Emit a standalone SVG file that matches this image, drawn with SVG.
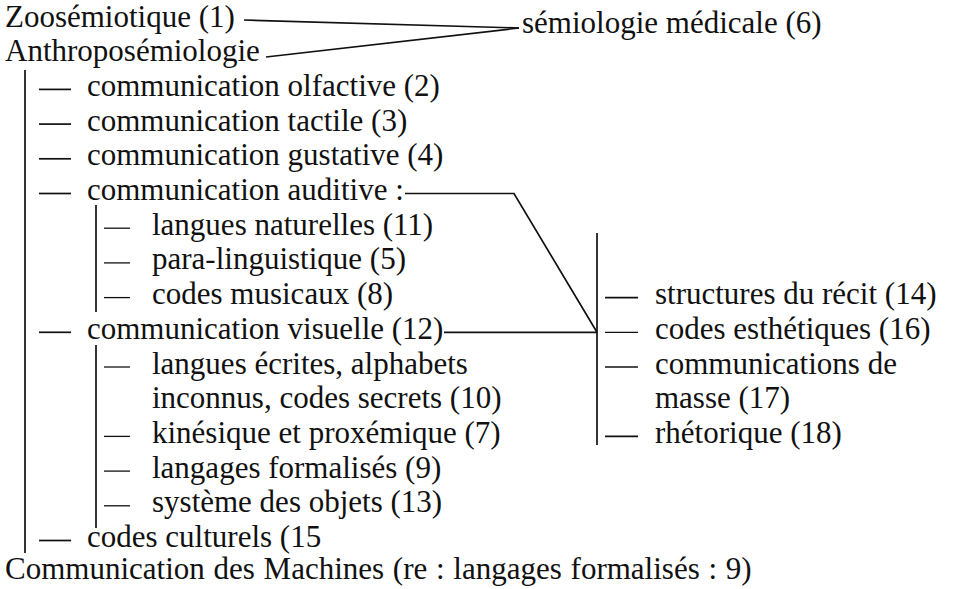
<svg xmlns="http://www.w3.org/2000/svg" width="957" height="589" viewBox="0 0 957 589" font-family="'Liberation Serif', 'Times New Roman', serif">
<style>
text { font-family: "Liberation Serif", "Times New Roman", serif; font-size: 31px; fill: #111; }
.ln { stroke: #111; stroke-width: 1.7; fill: none; }
.d { stroke: #111; stroke-width: 1.7; }
.sd { stroke: #111; stroke-width: 1.3; }
</style>
<rect width="957" height="589" fill="#fff"/>
<g id="connectors">
  <path class="ln" d="M244,20 L519,28"/>
  <path class="ln" d="M266,57 L519,28"/>
  <path class="ln" d="M405,193.5 L514,193.5 L597,332.3"/>
  <path class="ln" d="M444,332.3 L597,332.3"/>
  <path class="ln" d="M25,70 V553"/>
  <path class="ln" d="M96,205 V312"/>
  <path class="ln" d="M96,345 V528"/>
  <path class="ln" d="M597,233 V445"/>
</g>
<g id="n-zoo"><text x="5" y="27">Zoosémiotique (1)</text></g>
<g id="n-semio"><text x="522" y="33">sémiologie médicale (6)</text></g>
<g id="n-anthropo"><text x="5" y="61.2">Anthroposémiologie</text></g>
<g id="n-olfactive"><line class="d" x1="39" y1="89.4" x2="71" y2="89.4"/><text x="87" y="95.9">communication olfactive (2)</text></g>
<g id="n-tactile"><line class="d" x1="39" y1="124.1" x2="71" y2="124.1"/><text x="87" y="130.6">communication tactile (3)</text></g>
<g id="n-gustative"><line class="d" x1="39" y1="158.8" x2="71" y2="158.8"/><text x="87" y="165.3">communication gustative (4)</text></g>
<g id="n-auditive"><line class="d" x1="39" y1="193.5" x2="71" y2="193.5"/><text x="87" y="200">communication auditive :</text></g>
<g id="n-naturelles"><line class="sd" x1="104" y1="228.2" x2="130" y2="228.2"/><text x="152" y="234.7">langues naturelles (11)</text></g>
<g id="n-para"><line class="sd" x1="104" y1="262.9" x2="130" y2="262.9"/><text x="152" y="269.4">para-linguistique (5)</text></g>
<g id="n-musicaux"><line class="sd" x1="104" y1="297.6" x2="130" y2="297.6"/><text x="152" y="304.1">codes musicaux (8)</text></g>
<g id="n-visuelle"><line class="d" x1="39" y1="332.3" x2="71" y2="332.3"/><text x="87" y="338.8">communication visuelle (12)</text></g>
<g id="n-ecrites"><line class="sd" x1="104" y1="367" x2="130" y2="367"/><text x="152" y="373.5">langues écrites, alphabets</text><text x="152" y="408.2">inconnus, codes secrets (10)</text></g>
<g id="n-kinesique"><line class="sd" x1="104" y1="436.4" x2="130" y2="436.4"/><text x="152" y="442.9">kinésique et proxémique (7)</text></g>
<g id="n-langages"><line class="sd" x1="104" y1="471.1" x2="130" y2="471.1"/><text x="152" y="477.6">langages formalisés (9)</text></g>
<g id="n-systeme"><line class="sd" x1="104" y1="505.8" x2="130" y2="505.8"/><text x="152" y="512.3">système des objets (13)</text></g>
<g id="n-culturels"><line class="d" x1="39" y1="540.5" x2="71" y2="540.5"/><text x="87" y="547">codes culturels (15</text></g>
<g id="n-machines"><text x="5" y="579" word-spacing="1">Communication des Machines (re : langages formalisés : 9)</text></g>
<g id="n-recit"><line class="d" x1="605" y1="297.6" x2="638" y2="297.6"/><text x="655" y="304.1">structures du récit (14)</text></g>
<g id="n-esthetiques"><line class="sd" x1="605" y1="332.3" x2="638" y2="332.3"/><text x="655" y="338.8">codes esthétiques (16)</text></g>
<g id="n-masse"><line class="d" x1="605" y1="367" x2="638" y2="367"/><text x="655" y="373.5">communications de</text><text x="655" y="408.2">masse (17)</text></g>
<g id="n-rhetorique"><line class="d" x1="605" y1="436.4" x2="638" y2="436.4"/><text x="655" y="442.9">rhétorique (18)</text></g>
</svg>
